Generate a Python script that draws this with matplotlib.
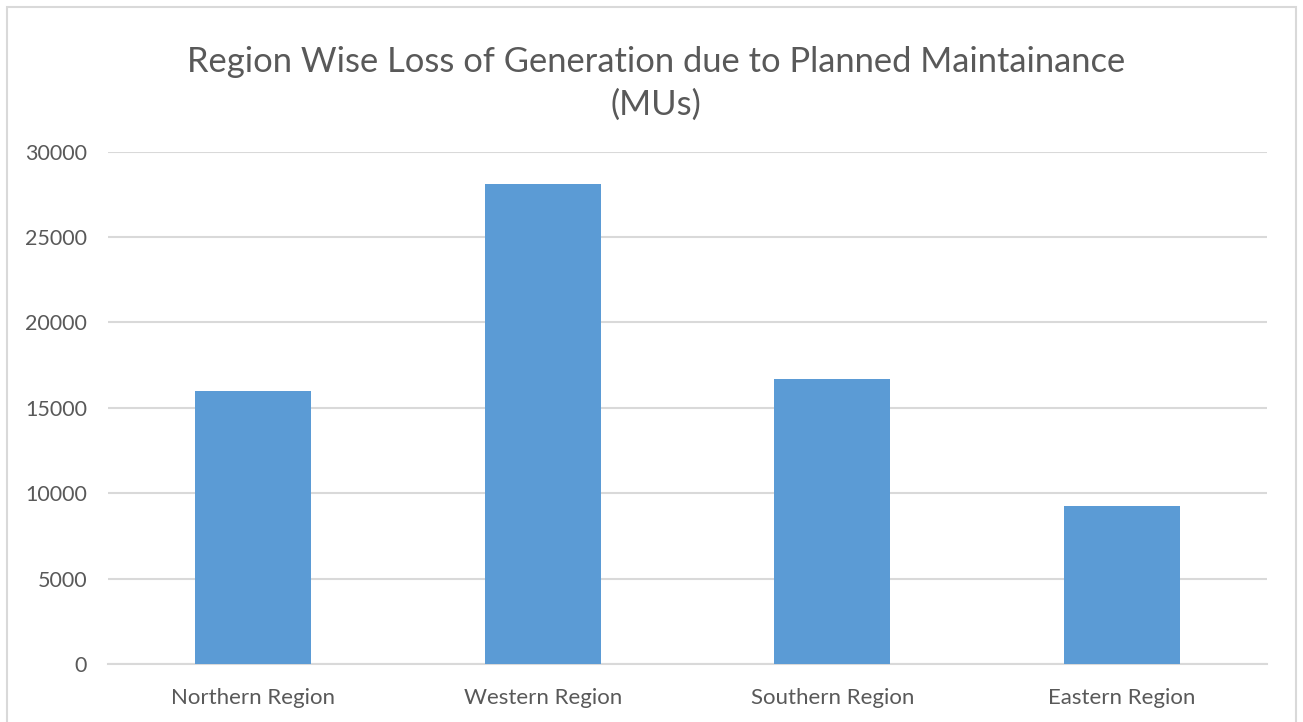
import numpy as np
import matplotlib.pyplot as plt
from matplotlib.patches import Rectangle

regions = ['Northern Region', 'Western Region', 'Southern Region', 'Eastern Region']
loss_mu = [16000, 28100, 16700, 9250]
yticks = [0, 5000, 10000, 15000, 20000, 25000, 30000]

title = 'Region Wise Loss of Generation due to Planned Maintainance\n(MUs)'
bar_color = '#5b9bd5'
grid_color = '#d9d9d9'
text_color = '#595959'

plt.rcParams['font.family'] = ['Lato', 'DejaVu Sans']

fig = plt.figure(figsize=(13.03, 7.22), dpi=100)
W, H = 1303, 722

# chart area border (bottom edge is cut off in the reference)
fig.patches.append(Rectangle((7 / W, -0.01), (1296 - 7) / W, (H - 7) / H + 0.01,
                             transform=fig.transFigure, fill=False,
                             edgecolor=grid_color, linewidth=1.5))

ax = fig.add_axes([108 / W, (H - 664) / H, (1267 - 108) / W, (664 - 151.7) / H])
x = np.arange(len(regions))
ax.bar(x, loss_mu, width=0.4, color=bar_color, zorder=3)
ax.set_xlim(-0.5, len(regions) - 0.5)
ax.set_ylim(0, 30000)
ax.set_yticks(yticks)
ax.set_yticklabels([str(v) for v in yticks])
ax.set_xticks(x)
ax.set_xticklabels(regions)
ax.yaxis.grid(True, color=grid_color, linewidth=1.5, zorder=0)
ax.set_axisbelow(True)
for s in ['top', 'right', 'left']:
    ax.spines[s].set_visible(False)
ax.spines['bottom'].set_color(grid_color)
ax.spines['bottom'].set_linewidth(1.5)
ax.tick_params(axis='x', length=0, labelsize=16, colors=text_color, pad=17)
ax.tick_params(axis='y', length=0, labelsize=15.5, colors=text_color, pad=15)

fig.text(656 / W, 1 - 83.5 / H, title, ha='center', va='center',
         fontsize=24.8, color=text_color, linespacing=1.42)

fig.savefig('out.png', dpi=100)
